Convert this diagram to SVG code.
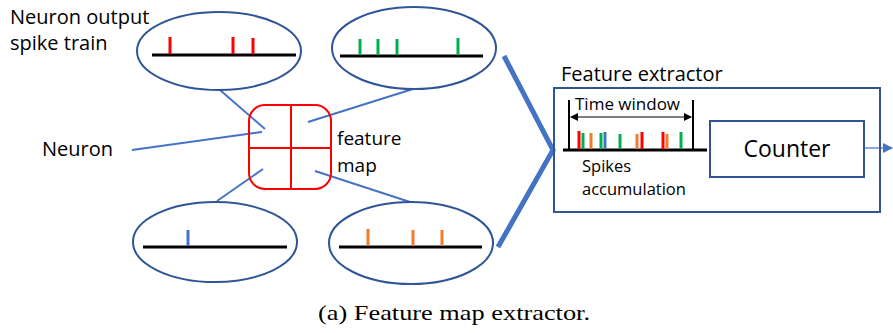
<svg xmlns="http://www.w3.org/2000/svg" width="893" height="333" viewBox="0 0 893 333">
<defs>
<style>
.t{font-family:"Open Sans","Noto Sans","Liberation Sans",sans-serif;fill:#000}
.ell{fill:none;stroke:#2F5597;stroke-width:2}
.base{stroke:#000;stroke-width:3}
.conn{stroke:#4472C4;stroke-width:2;fill:none}
.thick{stroke:#4472C4;stroke-width:5;fill:none}
.r{stroke:#FF0000;stroke-width:3}
.g{stroke:#00B050;stroke-width:3}
.b{stroke:#4472C4;stroke-width:3}
.o{stroke:#ED7D31;stroke-width:3}
.box{fill:none;stroke:#2F5597;stroke-width:2}
</style>
<marker id="ah" markerWidth="8" markerHeight="8" refX="7" refY="4" orient="auto" markerUnits="userSpaceOnUse">
<path d="M0,0 L8,4 L0,8 z" fill="#000"/>
</marker>
<marker id="ahs" markerWidth="8" markerHeight="8" refX="1" refY="4" orient="auto" markerUnits="userSpaceOnUse">
<path d="M8,0 L0,4 L8,8 z" fill="#000"/>
</marker>
<marker id="ahb" markerWidth="10" markerHeight="10" refX="9" refY="5" orient="auto" markerUnits="userSpaceOnUse">
<path d="M0,0 L10,5 L0,10 z" fill="#4472C4"/>
</marker>
</defs>
<rect width="893" height="333" fill="#fff"/>

<g id="connectors">
<line class="conn" x1="220" y1="90" x2="265" y2="129"/>
<line class="conn" x1="413" y1="89" x2="308" y2="122"/>
<line class="conn" x1="132" y1="150" x2="262" y2="132"/>
<line class="conn" x1="263" y1="169" x2="217" y2="201"/>
<line class="conn" x1="315" y1="171" x2="410" y2="202"/>
<polyline class="thick" points="504,56 553,150 498,247"/>
<line x1="864" y1="148" x2="892" y2="148" stroke="#8FAADC" stroke-width="2" marker-end="url(#ahb)"/>
</g>

<g id="label-neuron-output">
<text class="t" x="10" y="24" font-size="20">Neuron output</text>
<text class="t" x="10" y="50" font-size="20">spike train</text>
</g>
<g id="label-neuron">
<text class="t" x="42" y="156" font-size="20">Neuron</text>
</g>

<g id="train1">
<ellipse class="ell" cx="219" cy="51" rx="82" ry="39"/>
<line class="base" x1="152" y1="55" x2="296" y2="55"/>
<line class="r" x1="170" y1="37" x2="170" y2="54"/>
<line class="r" x1="233" y1="37" x2="233" y2="54"/>
<line class="r" x1="253" y1="38" x2="253" y2="54"/>
</g>

<g id="train2">
<ellipse class="ell" cx="414" cy="48" rx="82" ry="41"/>
<line class="base" x1="340" y1="56" x2="483" y2="56"/>
<line class="g" x1="360" y1="39" x2="360" y2="55"/>
<line class="g" x1="378" y1="39" x2="378" y2="55"/>
<line class="g" x1="397" y1="39" x2="397" y2="55"/>
<line class="g" x1="458" y1="38" x2="458" y2="55"/>
</g>

<g id="train3">
<ellipse class="ell" cx="215" cy="242" rx="82" ry="40"/>
<line class="base" x1="143" y1="247" x2="287" y2="247"/>
<line class="b" x1="188" y1="230" x2="188" y2="246"/>
</g>

<g id="train4">
<ellipse class="ell" cx="411" cy="243" rx="82" ry="41"/>
<line class="base" x1="339" y1="247" x2="482" y2="247"/>
<line class="o" x1="368" y1="229" x2="368" y2="246"/>
<line class="o" x1="413" y1="230" x2="413" y2="246"/>
<line class="o" x1="442" y1="230" x2="442" y2="246"/>
</g>

<g id="feature-map">
<rect x="249" y="105" width="82" height="84" rx="16" fill="none" stroke="#FF0000" stroke-width="2"/>
<line x1="291" y1="105" x2="291" y2="189" stroke="#FF0000" stroke-width="2"/>
<line x1="249" y1="148" x2="331" y2="148" stroke="#FF0000" stroke-width="2"/>
<text class="t" x="337" y="145" font-size="19">feature</text>
<text class="t" x="337" y="172" font-size="19">map</text>
</g>

<g id="feature-extractor">
<text class="t" x="561" y="81" font-size="20">Feature extractor</text>
<rect class="box" x="554" y="88" width="326" height="124"/>
<line x1="569" y1="100" x2="569" y2="150" stroke="#000" stroke-width="2"/>
<line x1="693" y1="100" x2="693" y2="150" stroke="#000" stroke-width="2"/>
<line x1="571" y1="117" x2="691" y2="117" stroke="#7F7F7F" stroke-width="2" marker-start="url(#ahs)" marker-end="url(#ah)"/>
<text class="t" x="575" y="110" font-size="17">Time window</text>
<line class="base" x1="563" y1="150" x2="707" y2="150"/>
<line class="r" x1="579" y1="131" x2="579" y2="149"/>
<line class="g" x1="583" y1="133" x2="583" y2="149"/>
<line class="o" x1="591" y1="133" x2="591" y2="149"/>
<line class="g" x1="601" y1="133" x2="601" y2="149"/>
<line class="b" x1="605" y1="132" x2="605" y2="149"/>
<line class="g" x1="620" y1="134" x2="620" y2="149"/>
<line class="o" x1="637" y1="134" x2="637" y2="149"/>
<line class="r" x1="642" y1="132" x2="642" y2="149"/>
<line class="r" x1="663" y1="132" x2="663" y2="149"/>
<line class="o" x1="667" y1="134" x2="667" y2="149"/>
<line class="g" x1="681" y1="132" x2="681" y2="149"/>
<text class="t" x="582" y="172" font-size="16.5">Spikes</text>
<text class="t" x="582" y="195" font-size="16.5">accumulation</text>
</g>

<g id="counter">
<rect class="box" x="710" y="121" width="154" height="56"/>
<text class="t" x="787" y="157" font-size="23" text-anchor="middle">Counter</text>
</g>

<g id="caption">
<text x="454" y="320" font-family="Liberation Serif, serif" font-size="21" text-anchor="middle" textLength="272" lengthAdjust="spacingAndGlyphs">(a) Feature map extractor.</text>
</g>
</svg>
